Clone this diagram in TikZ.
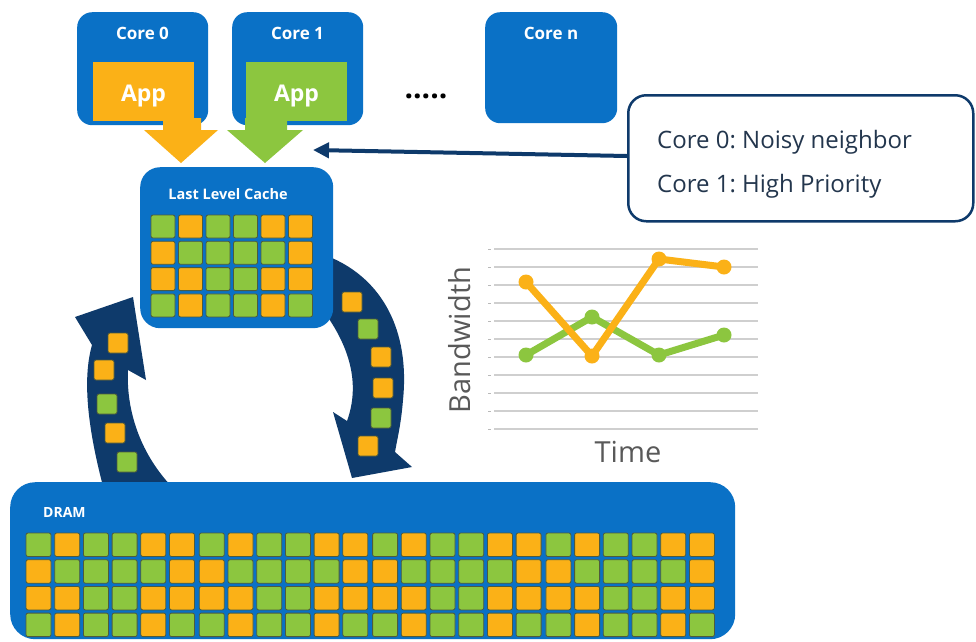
\documentclass[tikz,border=0pt]{standalone}
\usepackage{fontspec}
\setmainfont{Open Sans}
\usetikzlibrary{arrows.meta}
\definecolor{intelblue}{HTML}{0A71C6}
\definecolor{navy}{HTML}{0E3A6B}
\definecolor{cello}{HTML}{FBB117}
\definecolor{cellg}{HTML}{8CC63F}
\definecolor{celledge}{HTML}{4E5B3C}
\definecolor{gridgray}{HTML}{CFCFCF}
\definecolor{axisgray}{HTML}{595959}
\definecolor{calltext}{HTML}{23364D}
\frenchspacing
\begin{document}
\begin{tikzpicture}[x=1pt,y=-1pt,
  panel/.style={fill=intelblue, rounded corners=#1, inner sep=0pt, anchor=north west},
  panel/.default=15pt,
  appbox/.style={inner sep=0pt, minimum width=101pt, minimum height=59pt},
  applbl/.style={text=white, inner sep=0pt, font=\bfseries\fontsize{23}{26}\selectfont},
  whitelbl/.style={text=white, inner sep=0pt},
  cell/.style={draw=celledge, line width=0.8pt, rounded corners=2pt},
  band/.style={fill=navy},
  blockarrow/.style={line join=miter},
  gridline/.style={draw=gridgray, line width=2pt},
  series/.style={line width=7pt, line join=round, line cap=round},
  axislbl/.style={text=axisgray, inner sep=0pt, font=\fontsize{29}{32}\selectfont},
  calltxt/.style={text=calltext, inner sep=0pt, anchor=base west, font=\fontsize{24}{28}\selectfont},
]
\useasboundingbox (0,0) rectangle (976,641);
\fill[white] (0,0) rectangle (976,641);

% circular traffic between DRAM and the cache
\fill[band] (104,490) .. controls (88,430) and (82,380) .. (92,345) -- (75,317) -- (133,297)
  -- (146,380) -- (128,370) .. controls (126,410) and (140,455) .. (175,490) -- cycle;
\fill[band] (318,250) -- (332,258) .. controls (382,280) and (410,330) .. (403,400)
  .. controls (401,425) and (397,440) .. (395,452) -- (412,467) -- (352,478) -- (333,412)
  -- (347,421) .. controls (360,385) and (352,345) .. (315,300) -- cycle;
\foreach \px/\py/\c in {118/343/o,104/370/o,107/404/g,115/433/o,127/462/g,
                        352/302/o,368/329/g,381/357/o,383/388/o,381/418/g,368/446/o}
  \filldraw[cell, fill=cell\c] ({\px-10},{\py-10}) rectangle ++(20,20);

% cores
\node[panel, minimum width=131pt, minimum height=113pt] (core0) at (77,12) {};
\node[panel, minimum width=131pt, minimum height=113pt] (core1) at (232,12) {};
\node[panel, minimum width=132pt, minimum height=111pt] (coren) at (485,12) {};
\node[whitelbl, font=\bfseries\fontsize{17}{20}\selectfont] (core0lbl) at (142.5,33) {Core 0};
\node[whitelbl, font=\bfseries\fontsize{17}{20}\selectfont] (core1lbl) at (297.5,33) {Core 1};
\node[whitelbl, font=\bfseries\fontsize{17}{20}\selectfont] (corenlbl) at (551,33) {Core n};
\node[appbox, fill=cello] (app0) at (143.5,91.5) {};
\node[appbox, fill=cellg] (app1) at (296.5,91.5) {};
\node[applbl, anchor=base] (app0lbl) at (143.5,101) {App};
\node[applbl, anchor=base] (app1lbl) at (296.5,101) {App};
\node[text=black, inner sep=0pt, font=\bfseries\fontsize{30}{32}\selectfont] (dots) at (426,96) {.....};

% requests into the cache
\fill[cello, blockarrow] (163,118) -- (201,118) -- (201,130) -- (218,130) -- (181,163)
  -- (144,130) -- (163,130) -- cycle;
\fill[cellg, blockarrow] (245,118) -- (287,118) -- (287,130) -- (303,130) -- (265,163)
  -- (227,130) -- (245,130) -- cycle;

% last level cache
\node[panel=20pt, minimum width=193pt, minimum height=161pt] (llc) at (140,167) {};
\node[whitelbl, font=\bfseries\fontsize{14.5}{17}\selectfont] (llclbl) at (228,194) {Last Level Cache};
\foreach \row [count=\r from 0] in {{g,o,g,g,o,o},{o,g,g,g,g,o},{o,o,g,g,o,o},{g,o,g,g,o,g}}
  \foreach \c [count=\k from 0] in \row
    \filldraw[cell, fill=cell\c] ({151+27.5*\k},{215+26.3*\r}) rectangle ++(24,23);

% DRAM
\node[panel=25pt, minimum width=725pt, minimum height=157pt] (dram) at (10,482) {};
\node[whitelbl, anchor=west, font=\bfseries\fontsize{14}{16}\selectfont] (dramlbl) at (43,512) {DRAM};
\foreach \gp in {0,...,3}
  \foreach \row [count=\r from 0] in {{g,o,g,g,o,o},{o,g,g,g,g,o},{o,o,g,g,o,o},{g,o,g,g,o,g}}
    \foreach \c [count=\k from 0] in \row
      \filldraw[cell, fill=cell\c] ({26+173.3*\gp+28.7*\k},{533+26.7*\r}) rectangle ++(25,23.5);

% callout
\coordinate (calltip) at (313,150);
\draw[navy, line width=4pt, -{Triangle[length=16pt,width=15pt]}] (627,156) -- (calltip);
\node[panel=18pt, fill=white, draw=navy, line width=2.5pt, minimum width=345pt, minimum height=126pt] (callout) at (627,94) {};
\node[calltxt] (note0) at (657,148) {Core 0: Noisy neighbor};
\node[calltxt] (note1) at (657,192) {Core 1: High Priority};

% bandwidth chart
\foreach \i in {0,...,10} {
  \draw[gridline] (494,{249+18*\i}) -- (758,{249+18*\i});
  \draw[gray!55, line width=0.8pt] (488,{249+18*\i}) -- (491,{249+18*\i});
}
\coordinate (g1) at (526,355); \coordinate (g2) at (592,317);
\coordinate (g3) at (659,355); \coordinate (g4) at (724,335);
\coordinate (o1) at (526,282); \coordinate (o2) at (592,356);
\coordinate (o3) at (659,259); \coordinate (o4) at (724,267);
\draw[series, cellg] (g1) -- (g2) -- (g3) -- (g4);
\foreach \p in {g1,g2,g3,g4} \fill[cellg] (\p) circle (7.5pt);
\draw[series, cello] (o1) -- (o2) -- (o3) -- (o4);
\foreach \p in {o1,o2,o3,o4} \fill[cello] (\p) circle (7.5pt);
\node[axislbl, rotate=90] (bw) at (460,340) {Bandwidth};
\node[axislbl] (time) at (628,452) {Time};
\end{tikzpicture}
\end{document}
